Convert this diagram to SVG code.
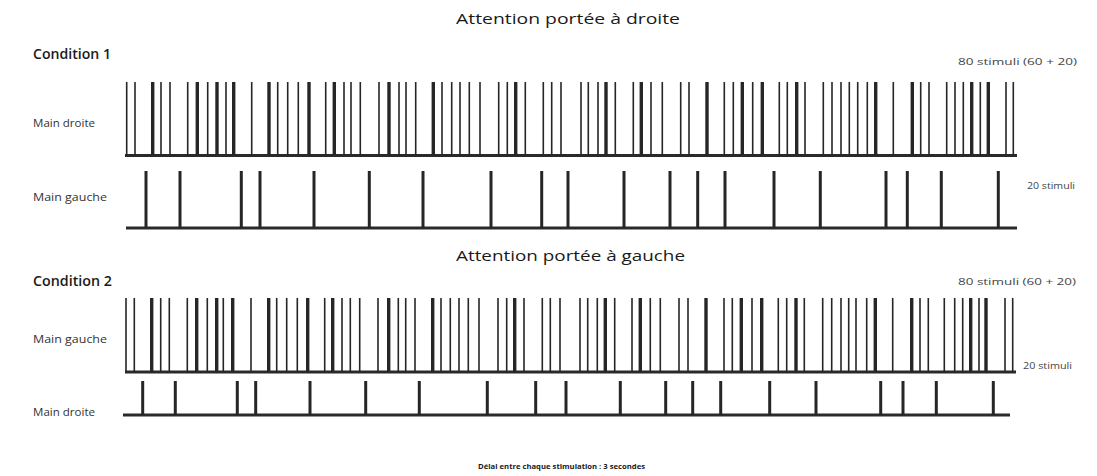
<svg xmlns="http://www.w3.org/2000/svg" width="1097" height="476" viewBox="0 0 1097 476">
<style>
.t{font-family:"Open Sans","Liberation Sans",sans-serif;fill:#1a1a1a}
.title{font-size:14px}
.cond{font-size:14px;font-weight:600}
.lab{font-size:11px;fill:#333}
.note{font-size:9px;fill:#444}
.foot{font-size:7.5px;font-weight:700}
.thin{stroke:#262626;stroke-width:1.6;fill:none}
.thick{stroke:#262626;stroke-width:3.4;fill:none}
.mid{stroke:#262626;stroke-width:3;fill:none}
.base{stroke:#2a2a2a;stroke-width:3;fill:none}
</style>
<rect width="1097" height="476" fill="#fff"/>
<g id="texts">
<text class="t title" x="456" y="24" textLength="224" lengthAdjust="spacingAndGlyphs">Attention portée à droite</text>
<text class="t cond" x="33" y="59" textLength="78" lengthAdjust="spacingAndGlyphs">Condition 1</text>
<text class="t note" x="958" y="65" textLength="119" lengthAdjust="spacingAndGlyphs">80 stimuli (60 + 20)</text>
<text class="t lab" x="33" y="127" textLength="62" lengthAdjust="spacingAndGlyphs">Main droite</text>
<text class="t lab" x="33" y="201" textLength="74" lengthAdjust="spacingAndGlyphs">Main gauche</text>
<text class="t note" x="1027" y="189" textLength="48" lengthAdjust="spacingAndGlyphs">20 stimuli</text>
<text class="t title" x="456" y="261" textLength="229" lengthAdjust="spacingAndGlyphs">Attention portée à gauche</text>
<text class="t cond" x="33" y="286" textLength="79" lengthAdjust="spacingAndGlyphs">Condition 2</text>
<text class="t note" x="958" y="285" textLength="118" lengthAdjust="spacingAndGlyphs">80 stimuli (60 + 20)</text>
<text class="t lab" x="33" y="343" textLength="74" lengthAdjust="spacingAndGlyphs">Main gauche</text>
<text class="t note" x="1023" y="369" textLength="49" lengthAdjust="spacingAndGlyphs">20 stimuli</text>
<text class="t lab" x="33" y="416" textLength="62" lengthAdjust="spacingAndGlyphs">Main droite</text>
<text class="t foot" x="478" y="469" textLength="167" lengthAdjust="spacingAndGlyphs">Délai entre chaque stimulation : 3 secondes</text>
</g>
<g id="row1">
<path class="base" d="M125 155.5H1017"/>
<path class="thin" d="M126.7 82V155M135 82V155M161 82V155M170 82V155M187.7 82V155M207.7 82V155M226 82V155M251.7 82V155M277.7 82V155M287.7 82V155M298.3 82V155M325.7 82V155M344 82V155M351 82V155M360.3 82V155M379 82V155M399 82V155M406 82V155M415.7 82V155M442 82V155M451.7 82V155M460 82V155M469.3 82V155M480 82V155M498.7 82V155M507.3 82V155M525.3 82V155M543.3 82V155M551.7 82V155M561 82V155M581 82V155M588.3 82V155M598 82V155M615.3 82V155M633.3 82V155M651 82V155M662.3 82V155M680.7 82V155M689 82V155M724.3 82V155M733.3 82V155M752.7 82V155M779.3 82V155M787.3 82V155M805 82V155M823.3 82V155M832 82V155M841 82V155M849.3 82V155M857.7 82V155M867.3 82V155M893.3 82V155M920.7 82V155M929 82V155M946.7 82V155M955 82V155M963.3 82V155M980.3 82V155M1006 82V155M1013.3 82V155"/>
<path class="thick" d="M152.7 82V155M197.3 82V155M217 82V155M233.7 82V155M269 82V155M309 82V155M334.3 82V155M389 82V155M433.3 82V155M515.7 82V155M606 82V155M641.3 82V155M707 82V155M742.3 82V155M762.3 82V155M796.7 82V155M875.7 82V155M912.3 82V155M971.7 82V155M988.3 82V155"/>
</g>
<g id="row2">
<path class="base" d="M126 228H1017"/>
<path class="mid" d="M146 171V228M180 171V228M241.3 171V228M260 171V228M314 171V228M369.3 171V228M423 171V228M491 171V228M541.7 171V228M568 171V228M624 171V228M670 171V228M697.7 171V228M725 171V228M774 171V228M820.3 171V228M886 171V228M907.3 171V228M941.3 171V228M998.3 171V228"/>
</g>
<g id="row3">
<path class="base" d="M125 372H1016"/>
<path class="thin" d="M126 298V372M134.3 298V372M160.7 298V372M169.3 298V372M187.3 298V372M207.3 298V372M223.3 298V372M251 298V372M276.7 298V372M286.7 298V372M297.3 298V372M324.7 298V372M342 298V372M350.3 298V372M359.7 298V372M378 298V372M398.3 298V372M405.7 298V372M415 298V372M441 298V372M450.3 298V372M459 298V372M468.3 298V372M479 298V372M498 298V372M506.7 298V372M524 298V372M542.3 298V372M550.3 298V372M560 298V372M580 298V372M587.7 298V372M597.3 298V372M614.7 298V372M632 298V372M650.3 298V372M660.3 298V372M679 298V372M688 298V372M724 298V372M732.3 298V372M752 298V372M778.3 298V372M786.7 298V372M804.3 298V372M822.7 298V372M831.7 298V372M841 298V372M848.7 298V372M856 298V372M866.7 298V372M892.7 298V372M920 298V372M928.3 298V372M944.3 298V372M954.7 298V372M962.7 298V372M979 298V372M1005 298V372M1012.7 298V372"/>
<path class="thick" d="M151.7 298V372M196.7 298V372M216.7 298V372M232.7 298V372M268.7 298V372M307.7 298V372M332.7 298V372M388.7 298V372M432.7 298V372M514.7 298V372M605.3 298V372M640.3 298V372M706 298V372M741.3 298V372M761.7 298V372M796 298V372M875.3 298V372M911.7 298V372M970.7 298V372M986 298V372"/>
</g>
<g id="row4">
<path class="base" d="M123 415H1010"/>
<path class="mid" d="M142.7 381V415M175.3 381V415M237.3 381V415M255.7 381V415M310 381V415M365.7 381V415M419.3 381V415M487.3 381V415M535.7 381V415M566 381V415M620.3 381V415M665.7 381V415M692.7 381V415M720.7 381V415M769.7 381V415M816 381V415M880.7 381V415M903 381V415M936.3 381V415M993.3 381V415"/>
</g>
</svg>
